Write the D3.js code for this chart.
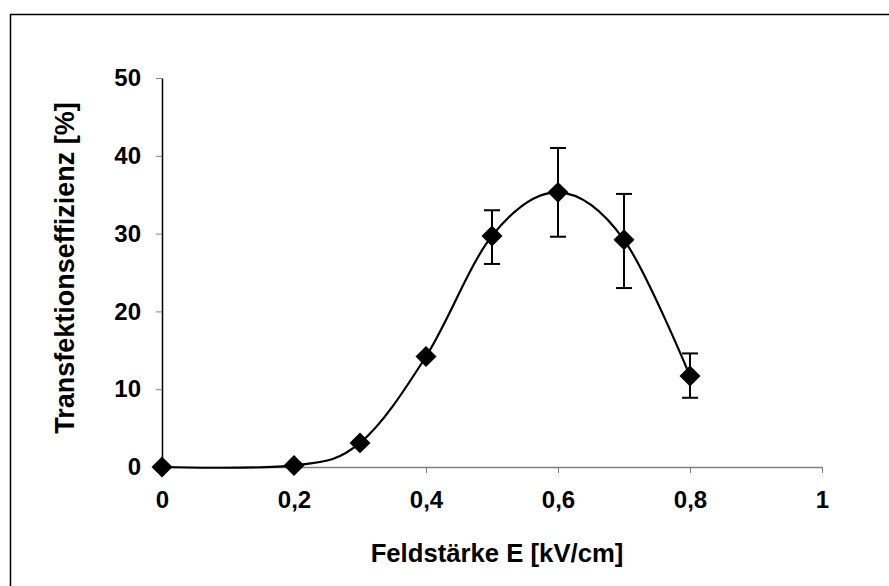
<!DOCTYPE html>
<html>
<head>
<meta charset="utf-8">
<script src="https://cdn.jsdelivr.net/npm/d3@7"></script>
<style>
  html, body { margin: 0; padding: 0; background: #fff; }
  svg { display: block; }
</style>
</head>
<body>
<div id="chart"></div>
<script>
// field strength (kV/cm) and transfection efficiency (%)
const fieldStrength = [0, 0.2, 0.3, 0.4, 0.5, 0.6, 0.7, 0.8];
const efficiency    = [0, 0.2, 3.1, 14.2, 29.7, 35.3, 29.2, 11.7];
const errUpper      = [null, null, null, null, 33.0, 41.0, 35.1, 14.6];
const errLower      = [null, null, null, null, 26.1, 29.6, 23.0, 8.9];

const xTicks = [0, 0.2, 0.4, 0.6, 0.8, 1];
const yTicks = [0, 10, 20, 30, 40, 50];

const width = 889, height = 586;
const margin = { top: 78, right: 67, bottom: 119, left: 162 };
const innerWidth  = width - margin.left - margin.right;
const innerHeight = height - margin.top - margin.bottom;
const font = "Liberation Sans, Arial, sans-serif";

const data = fieldStrength.map((x, i) => ({
  x, y: efficiency[i], hi: errUpper[i], lo: errLower[i]
}));

const svg = d3.select("#chart").append("svg")
  .attr("width", width)
  .attr("height", height);

// outer frame: only top and left edges are inside the picture
svg.append("path")
  .attr("d", `M10.5,${height}V14.5H${width}`)
  .attr("fill", "none")
  .attr("stroke", "#000")
  .attr("stroke-width", 1.5);

const g = svg.append("g")
  .attr("transform", `translate(${margin.left},${margin.top})`);

const x = d3.scaleLinear().domain([0, 1]).range([0, innerWidth]);
const y = d3.scaleLinear().domain([0, 50]).range([innerHeight, 0]);

const fmtX = d => d === 0 || d === 1 ? String(d) : d3.format(".1f")(d).replace(".", ",");

// x-axis
const xAxis = g.append("g")
  .attr("transform", `translate(0,${innerHeight})`)
  .call(d3.axisBottom(x).tickValues(xTicks).tickSize(6).tickSizeOuter(0).tickPadding(18).tickFormat(fmtX));
xAxis.select(".domain").attr("stroke", "#808080").attr("stroke-width", 1.5);
xAxis.selectAll(".tick line").attr("stroke", "#808080");
xAxis.selectAll("text")
  .attr("font-family", font)
  .attr("font-weight", "bold")
  .attr("font-size", 24)
  .attr("fill", "#000");

// y-axis
const yAxis = g.append("g")
  .call(d3.axisLeft(y).tickValues(yTicks).tickSize(6).tickPadding(15).tickSizeOuter(0));
yAxis.select(".domain").attr("stroke", "#000").attr("stroke-width", 1.5);
yAxis.selectAll(".tick line").attr("stroke", "#808080");
yAxis.selectAll("text")
  .attr("font-family", font)
  .attr("font-weight", "bold")
  .attr("font-size", 24)
  .attr("fill", "#000");

// smoothed line
const line = d3.line()
  .x(d => x(d.x))
  .y(d => y(d.y))
  .curve(d3.curveCatmullRom.alpha(0));

g.append("path")
  .datum(data)
  .attr("fill", "none")
  .attr("stroke", "#000")
  .attr("stroke-width", 2.2)
  .attr("d", line);

// error bars
const errData = data.filter(d => d.hi !== null);
const cap = 8;
const eb = g.selectAll(".err").data(errData).enter().append("g")
  .attr("class", "err")
  .attr("stroke", "#000")
  .attr("stroke-width", 2);
eb.append("line")
  .attr("x1", d => x(d.x)).attr("x2", d => x(d.x))
  .attr("y1", d => y(d.hi)).attr("y2", d => y(d.lo));
eb.append("line")
  .attr("x1", d => x(d.x) - cap).attr("x2", d => x(d.x) + cap)
  .attr("y1", d => y(d.hi)).attr("y2", d => y(d.hi));
eb.append("line")
  .attr("x1", d => x(d.x) - cap).attr("x2", d => x(d.x) + cap)
  .attr("y1", d => y(d.lo)).attr("y2", d => y(d.lo));

// diamond markers
const diamond = d3.symbol().type(d3.symbolSquare).size(220);
g.selectAll(".pt").data(data).enter().append("path")
  .attr("class", "pt")
  .attr("d", diamond)
  .attr("transform", d => `translate(${x(d.x)},${y(d.y)}) rotate(45)`)
  .attr("fill", "#000");

// axis titles
g.append("text")
  .attr("x", innerWidth / 2 + 5)
  .attr("y", innerHeight + 95)
  .attr("text-anchor", "middle")
  .attr("font-family", font)
  .attr("font-weight", "bold")
  .attr("font-size", 25.7)
  .text("Feldstärke E [kV/cm]");

g.append("text")
  .attr("transform", "rotate(-90)")
  .attr("x", -(268 - margin.top))
  .attr("y", -88)
  .attr("text-anchor", "middle")
  .attr("font-family", font)
  .attr("font-weight", "bold")
  .attr("font-size", 27)
  .text("Transfektionseffizienz [%]");
</script>
</body>
</html>
